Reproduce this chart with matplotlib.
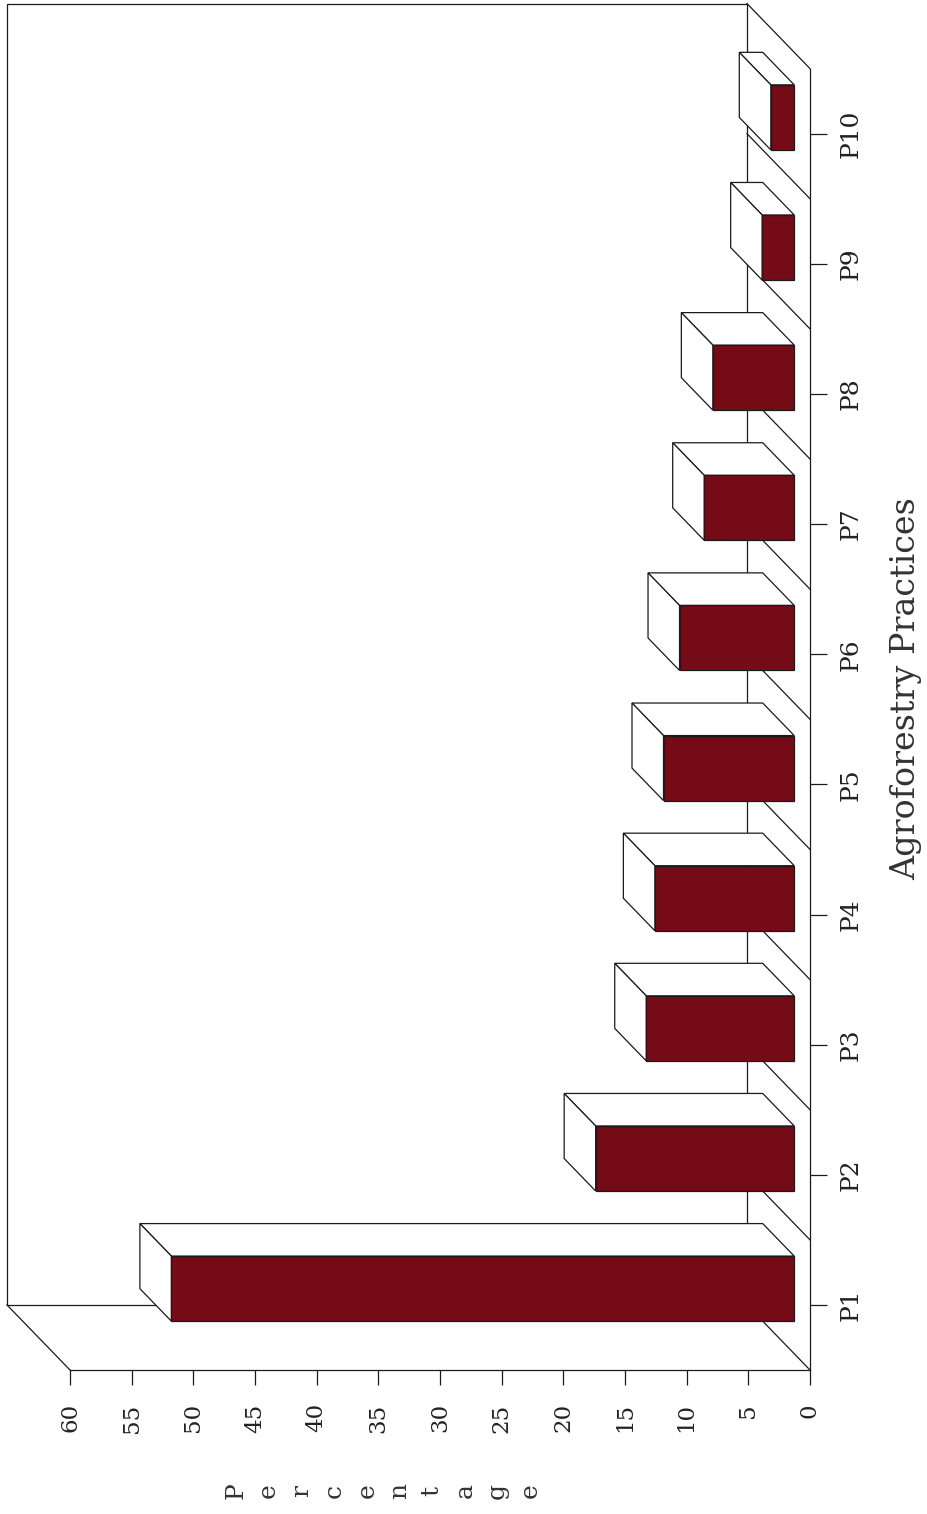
import numpy as np
import matplotlib.pyplot as plt
from matplotlib.patches import Polygon

# Share of farmers adopting each agroforestry practice (%)
practices = ['P1', 'P2', 'P3', 'P4', 'P5', 'P6', 'P7', 'P8', 'P9', 'P10']
percent = [50.5, 16.1, 12.0, 11.3, 10.6, 9.3, 7.3, 6.6, 2.6, 1.9]
value_ticks = list(range(0, 61, 5))

W, H = 928, 1514
INK = '#1a1a1a'
BAR = '#760b18'
LW = 0.9
plt.rcParams['font.family'] = 'DejaVu Serif'

fig = plt.figure(figsize=(W / 100, H / 100), dpi=100)
# page is turned on its side: value runs right->left, categories bottom->top
ax = fig.add_axes([70 / W, 1 - 1370 / H, 740 / W, 1301.4 / H])
ax.set_xlim(60, 0)
ax.set_ylim(0, 10)

# oblique depth: going one unit back shifts the point by DV (value) and DC (category)
DV, DC = 5.11, 0.5


def proj(c, v, d):
    return (v + d * DV, c + d * DC)


def face(pts, fc, z):
    ax.add_patch(Polygon([proj(*p) for p in pts], closed=True, fc=fc,
                         ec=INK, lw=LW, clip_on=False, zorder=z))


def edge(p0, p1, z=1.5):
    (x0, y0), (x1, y1) = proj(*p0), proj(*p1)
    ax.plot([x0, x1], [y0, y1], color=INK, lw=LW, clip_on=False, zorder=z)


n = len(practices)
# back wall
face([(0, 0, 1), (n, 0, 1), (n, 60, 1), (0, 60, 1)], 'white', 1)
# side wall edges
edge((0, 60, 1), (0, 60, 0))
edge((0, 0, 1), (0, 0, 0))
# floor dividers
for k in range(1, n + 1):
    edge((k, 0, 1), (k, 0, 0))

# bars: front face at depth 0.25, back at 0.75, half a slot wide
d0, d1 = 0.25, 0.75
for i, v in enumerate(percent):
    lo, hi = i + 0.25, i + 0.75
    face([(hi, 0, d0), (hi, v, d0), (hi, v, d1), (hi, 0, d1)], 'white', 3)
    face([(lo, v, d0), (hi, v, d0), (hi, v, d1), (lo, v, d1)], 'white', 3)
    face([(lo, 0, d0), (hi, 0, d0), (hi, v, d0), (lo, v, d0)], BAR, 3.1)

for s in ['top', 'left']:
    ax.spines[s].set_visible(False)
for s in ['bottom', 'right']:
    ax.spines[s].set_color(INK)
    ax.spines[s].set_linewidth(LW)

ax.set_xticks(value_ticks)
ax.set_xticklabels([str(t) for t in value_ticks], rotation=90)
ax.tick_params(axis='x', length=11, width=LW, color=INK, pad=13,
               labelsize=16.5, labelcolor='#222222')

ax.yaxis.tick_right()
ax.set_yticks(np.arange(n) + 0.5)
ax.set_yticklabels(practices, rotation=90, va='center')
ax.tick_params(axis='y', length=12, width=LW, color=INK, pad=9,
               labelsize=18, labelcolor='#222222')

fig.text(906 / W, 1 - 689 / H, 'Agroforestry Practices', rotation=90,
         ha='center', va='center', fontsize=24, color='#333333')

# axis title written as stacked letters
for k, ch in enumerate('Percentage'):
    fig.text((236 + k * 32.7) / W, 1 - 1491 / H, ch, rotation=90,
             ha='center', va='center', fontsize=18, color='#333333')

fig.savefig('out.png', dpi=100)
